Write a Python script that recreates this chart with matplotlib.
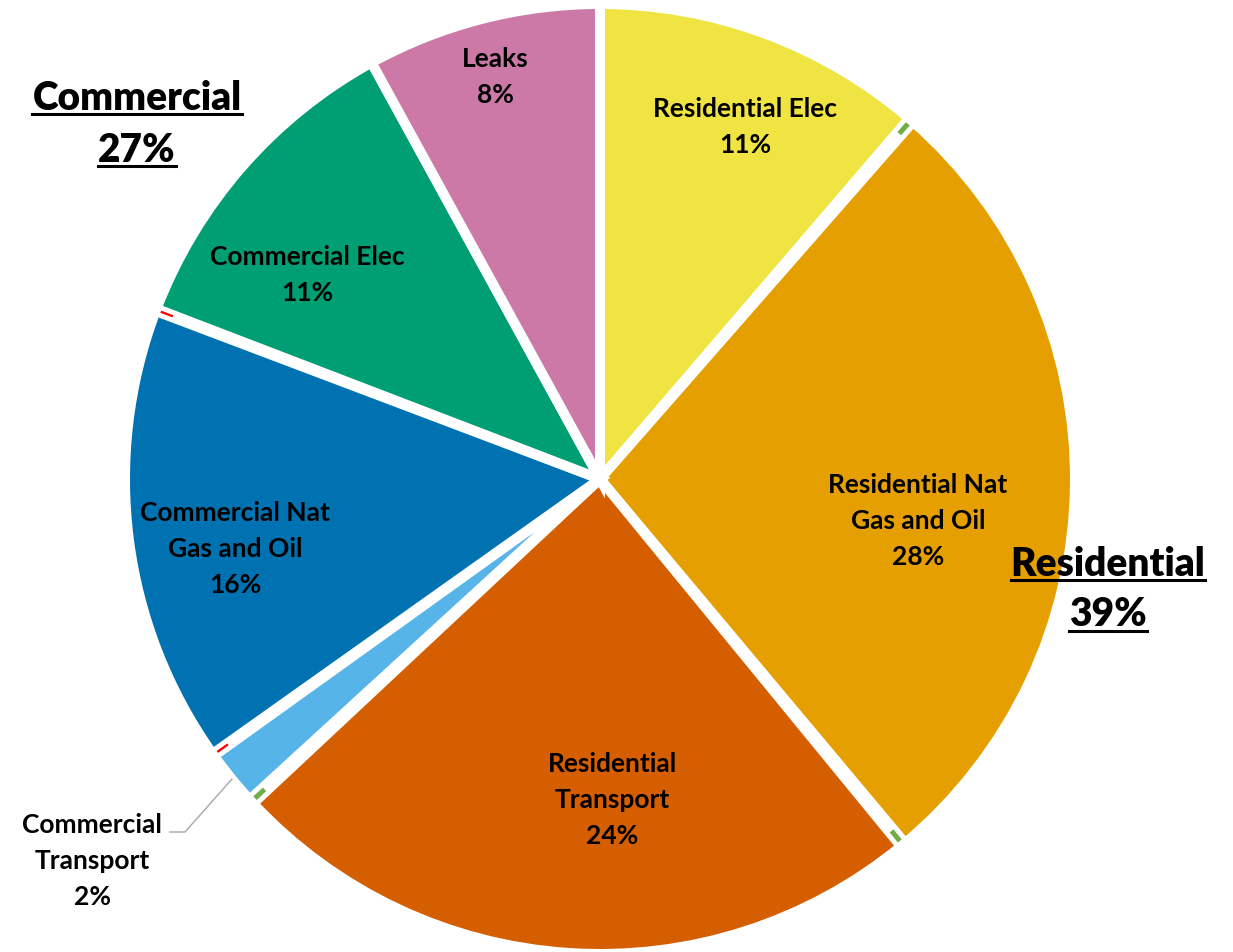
"""Pie chart of emissions split between residential and commercial sources."""
import matplotlib
matplotlib.use("Agg")
import matplotlib.pyplot as plt
from matplotlib.lines import Line2D

plt.rcParams["font.family"] = ["Lato", "DejaVu Sans"]

W, H = 1233, 953

# slices clockwise from 12 o'clock; the tiny ones show only as slivers in the gaps
SLICE_NAMES = ["Residential Elec", "res_sliver_1", "Residential Nat Gas and Oil",
               "res_sliver_2", "Residential Transport", "res_sliver_3",
               "Commercial Transport", "com_sliver_1", "Commercial Nat Gas and Oil",
               "com_sliver_2", "Commercial Elec", "Leaks"]
SLICE_VALUES = [11.3, 0.17, 27.5, 0.17, 24.0, 0.17, 1.9, 0.08, 15.6, 0.08, 11.2, 8.0]
SLICE_COLORS = ["#F0E442", "#70AD47", "#E69F00", "#70AD47", "#D55E00", "#70AD47",
                "#56B4E9", "#FF0000", "#0072B2", "#FF0000", "#009E73", "#CC79A7"]
SLIVERS = {1, 3, 5, 7, 9}

LABEL_TEXTS = ["Leaks\n8%", "Residential Elec\n11%", "Residential Nat\nGas and Oil\n28%",
               "Residential\nTransport\n24%", "Commercial Nat\nGas and Oil\n16%",
               "Commercial Elec\n11%", "Commercial\nTransport\n2%"]
LABEL_POS = [(495, 77), (745, 127), (918, 521), (612, 800), (235, 549), (307, 275), (92, 861)]

GROUP_TEXTS = ["Commercial", "27%", "Residential", "39%"]
GROUP_POS = [(137, 98), (137, 150), (1108, 564), (1108, 615)]


def run() -> None:
    fig = plt.figure(figsize=(W / 100, H / 100), dpi=100)
    ax = fig.add_axes([0, 0, 1, 1])

    wedges, _ = ax.pie(SLICE_VALUES, colors=SLICE_COLORS, startangle=90, counterclock=False,
                       center=(600, H - 480), radius=475, frame=True,
                       wedgeprops=dict(edgecolor="white", linewidth=7.2))
    ax.set_xlim(0, W)
    ax.set_ylim(0, H)
    ax.axis("off")
    for i, w in enumerate(wedges):
        if i in SLIVERS:
            w.set_linewidth(0)
            w.set_edgecolor("none")
            w.set_radius(470)
            w.set_width(13)
            w.set_zorder(5)

    for text, (x, y) in zip(LABEL_TEXTS, LABEL_POS):
        ax.text(x, H - y, text, ha="center", va="center", fontsize=19, fontweight="bold",
                linespacing=1.6, color="black", zorder=6)

    # leader line for the small commercial transport slice
    ax.plot([170, 185, 232], [H - 833, H - 833, H - 780], color="#A6A6A6", lw=1, zorder=6)

    # group totals, underlined
    big = []
    for text, (x, y) in zip(GROUP_TEXTS, GROUP_POS):
        big.append(ax.text(x, H - y, text, ha="center", va="center", fontsize=28,
                           fontweight="heavy", color="black", zorder=6))

    fig.canvas.draw()
    renderer = fig.canvas.get_renderer()
    inv = fig.transFigure.inverted()
    for t in big:
        bb = t.get_window_extent(renderer)
        (x0, y0), (x1, _) = inv.transform([(bb.x0, bb.y0 + 2), (bb.x1, bb.y0 + 2)])
        fig.add_artist(Line2D([x0, x1], [y0, y0], transform=fig.transFigure,
                              color="black", lw=2.2, zorder=7))

    fig.savefig("out.png", dpi=100, facecolor="white")
    plt.close(fig)


if __name__ == "__main__":
    run()
